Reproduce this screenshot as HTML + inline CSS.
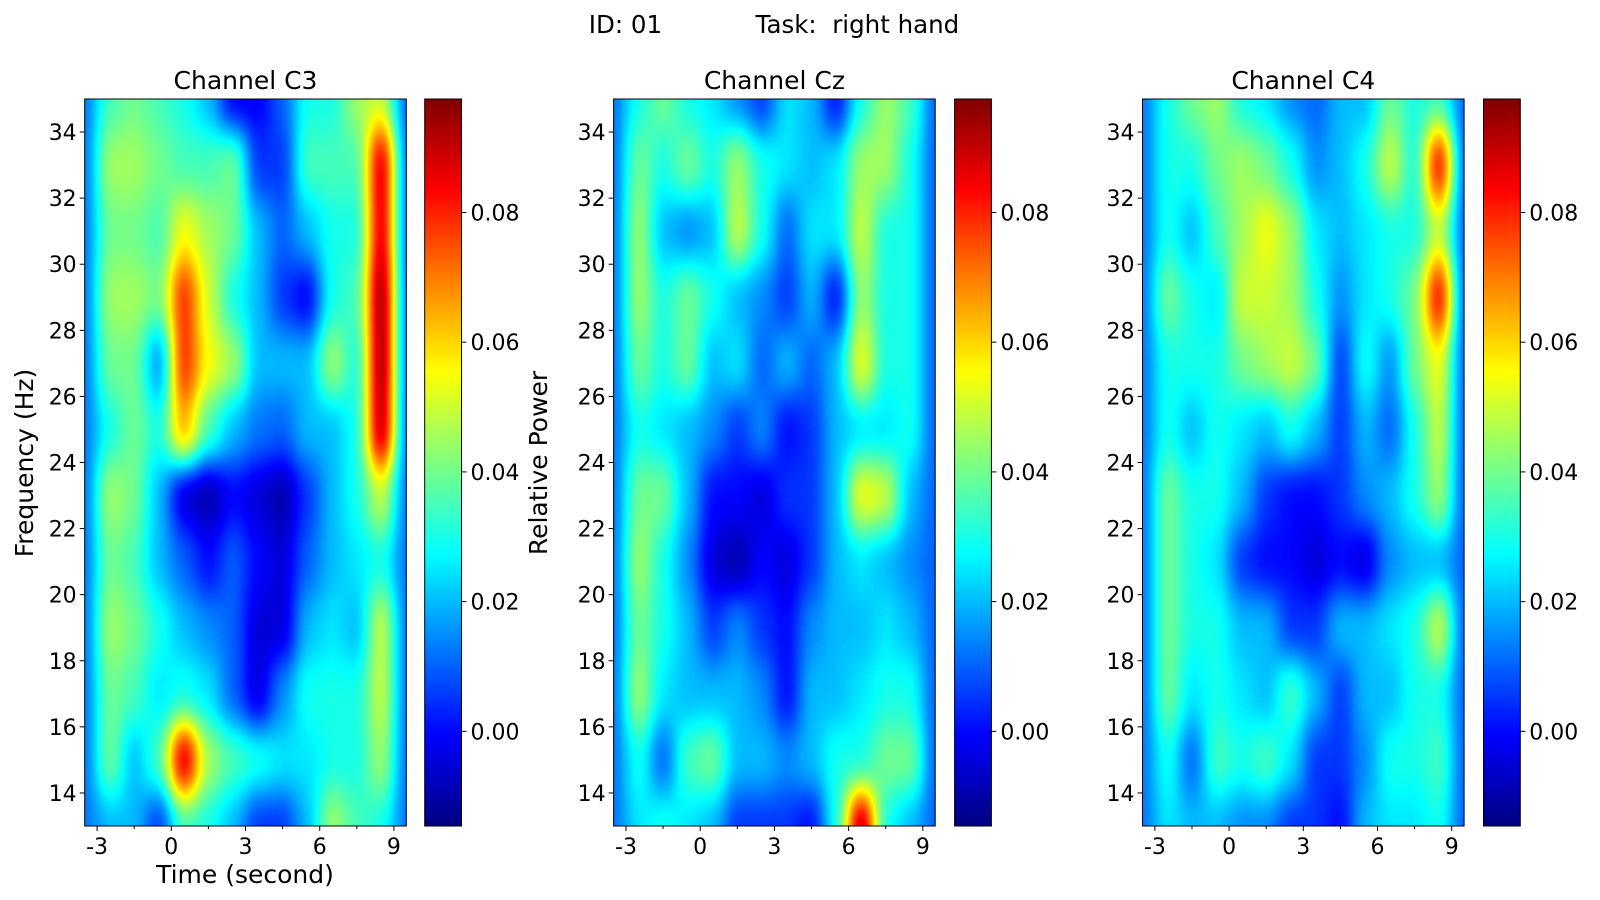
<!DOCTYPE html>
<html><head><meta charset="utf-8"><style>
html,body{margin:0;padding:0;background:#fff;}
svg{display:block;font-family:"DejaVu Sans","Liberation Sans",sans-serif;}
</style></head><body>
<svg id="root" width="1600" height="900" viewBox="0 0 1600 900">
<text x="774" y="33" font-size="24.5" text-anchor="middle" xml:space="preserve">ID: 01            Task:  right hand</text>
</svg>
<script>
const freqs=[35,33,31,29,27,25,23,21,19,17,15,13];
const times=[-3.5,-2.5,-1.5,-0.5,0.5,1.5,2.5,3.5,4.5,5.5,6.5,7.5,8.5,9.5];
const xTicks=[-3,0,3,6,9];
const yTicks=[14,16,18,20,22,24,26,28,30,32,34];
const cbTicks=[0,0.02,0.04,0.06,0.08];
const cbLabels=["0.00","0.02","0.04","0.06","0.08"];
const channelNames=["Channel C3","Channel Cz","Channel C4"];
const c3=[
[0.012,0.035,0.04,0.035,0.03,0.02,-0.002,-0.002,0.01,0.03,0.03,0.045,0.05,0.01],
[0.012,0.045,0.045,0.04,0.035,0.035,0.04,0.005,0.005,0.035,0.035,0.035,0.09,0.012],
[0.012,0.04,0.04,0.035,0.055,0.045,0.04,0.02,0.01,0.02,0.03,0.03,0.09,0.012],
[0.012,0.045,0.045,0.04,0.08,0.05,0.03,0.02,0.005,-0.002,0.03,0.035,0.1,0.012],
[0.012,0.04,0.04,0.015,0.08,0.055,0.045,0.02,0.02,0.02,0.045,0.03,0.1,0.012],
[0.012,0.03,0.04,0.03,0.065,0.035,0.02,0.012,0.01,0.02,0.02,0.03,0.095,0.012],
[0.012,0.045,0.04,0.02,-0.005,-0.01,0.0,-0.005,-0.01,0.005,0.02,0.03,0.05,0.012],
[0.012,0.04,0.035,0.02,0.01,0.0,0.01,0.0,-0.005,0.01,0.02,0.025,0.03,0.012],
[0.012,0.045,0.04,0.03,0.02,0.015,0.01,-0.005,-0.005,0.02,0.025,0.02,0.05,0.012],
[0.012,0.04,0.035,0.025,0.03,0.025,0.01,-0.005,0.015,0.03,0.03,0.03,0.05,0.012],
[0.012,0.04,0.02,0.035,0.09,0.045,0.035,0.03,0.025,0.025,0.03,0.03,0.045,0.012],
[0.012,0.02,0.02,0.005,0.035,0.03,0.02,0.005,0.005,0.02,0.045,0.035,0.03,0.012]];
const cz=[
[0.012,0.03,0.04,0.03,0.025,0.015,0.005,0.025,0.02,0.0,0.03,0.045,0.035,0.01],
[0.012,0.04,0.03,0.04,0.03,0.045,0.03,0.025,0.02,0.025,0.045,0.045,0.03,0.01],
[0.012,0.045,0.02,0.015,0.02,0.05,0.03,0.01,0.025,0.025,0.05,0.03,0.03,0.01],
[0.012,0.045,0.03,0.04,0.03,0.02,0.015,0.005,0.02,0.0,0.045,0.03,0.03,0.01],
[0.012,0.04,0.03,0.04,0.02,0.025,0.01,0.02,0.01,0.02,0.055,0.03,0.03,0.01],
[0.012,0.03,0.025,0.02,0.015,0.005,0.015,0.0,0.005,0.02,0.025,0.025,0.03,0.01],
[0.012,0.04,0.04,0.02,0.0,0.0,-0.005,0.005,0.005,0.02,0.055,0.05,0.02,0.01],
[0.012,0.045,0.03,0.015,-0.005,-0.01,0.0,-0.005,0.005,0.02,0.025,0.02,0.015,0.01],
[0.012,0.04,0.03,0.02,0.005,0.015,0.005,0.0,0.015,0.02,0.02,0.025,0.02,0.01],
[0.012,0.045,0.025,0.02,0.02,0.02,0.015,0.0,0.02,0.02,0.025,0.03,0.03,0.01],
[0.012,0.03,0.01,0.035,0.04,0.02,0.02,0.015,0.02,0.03,0.03,0.04,0.04,0.01],
[0.012,0.025,0.03,0.025,0.02,0.005,0.005,0.005,0.0,0.03,0.095,0.03,0.02,0.01]];
const c4=[
[0.012,0.03,0.04,0.045,0.03,0.025,0.015,0.01,0.02,0.02,0.04,0.03,0.035,0.01],
[0.012,0.03,0.03,0.04,0.045,0.04,0.03,0.015,0.02,0.03,0.05,0.03,0.085,0.01],
[0.012,0.03,0.02,0.035,0.045,0.055,0.045,0.025,0.02,0.025,0.03,0.03,0.05,0.01],
[0.012,0.04,0.03,0.025,0.05,0.05,0.045,0.03,0.015,0.025,0.03,0.04,0.085,0.01],
[0.012,0.03,0.03,0.03,0.04,0.045,0.05,0.04,0.005,0.03,0.015,0.04,0.055,0.01],
[0.012,0.03,0.02,0.03,0.025,0.02,0.03,0.02,0.005,0.02,0.01,0.03,0.05,0.01],
[0.012,0.04,0.03,0.03,0.02,0.005,0.0,0.0,0.005,0.015,0.02,0.03,0.045,0.01],
[0.012,0.04,0.03,0.025,0.005,0.0,0.0,-0.005,0.0,-0.005,0.015,0.02,0.02,0.01],
[0.012,0.04,0.03,0.03,0.02,0.02,0.005,0.005,0.02,0.02,0.025,0.03,0.05,0.01],
[0.012,0.04,0.025,0.03,0.025,0.02,0.035,0.02,0.005,0.02,0.02,0.03,0.03,0.01],
[0.012,0.03,0.01,0.035,0.03,0.035,0.025,0.005,0.005,0.015,0.03,0.03,0.035,0.01],
[0.012,0.025,0.02,0.02,0.015,0.015,0.005,0.005,0.0,0.02,0.025,0.025,0.03,0.01]];
const channelData=[c3,cz,c4];

const NS="http://www.w3.org/2000/svg";
const root=document.getElementById('root');
const VMIN=-0.0146,VMAX=0.0975,TMIN=-3.5,TMAX=9.5,FMIN=13,FMAX=35;
const panels=[{x:84.7,cb:424.7},{x:613.6,cb:954.6},{x:1142.5,cb:1483.5}];
const PW=321.6,PT=99,PB=826,CBW=36.8;
const TICKFS=22, LABFS=25;
function el(tag,attrs,parent){const e=document.createElementNS(NS,tag);for(const k in attrs)e.setAttribute(k,attrs[k]);(parent||root).appendChild(e);return e;}
function cl(v){return Math.max(0,Math.min(1,v));}
function jetc(x){x=cl(x);return [cl(1.5-Math.abs(4*x-3)),cl(1.5-Math.abs(4*x-2)),cl(1.5-Math.abs(4*x-1))];}
function jet(x){const c=jetc(x);return `rgb(${Math.round(c[0]*255)},${Math.round(c[1]*255)},${Math.round(c[2]*255)})`;}
function norm(v){return cl((v-VMIN)/(VMAX-VMIN));}
const defs=el('defs',{});
const flt=el('filter',{id:'blur',x:'-20%',y:'-20%',width:'140%',height:'140%','color-interpolation-filters':'sRGB'},defs);
el('feGaussianBlur',{stdDeviation:'8 19'},flt);
const ct=el('feComponentTransfer',{},flt);
const tr=[],tg=[],tb=[];
for(let i=0;i<=64;i++){const c=jetc(i/64);tr.push(c[0].toFixed(3));tg.push(c[1].toFixed(3));tb.push(c[2].toFixed(3));}
el('feFuncR',{type:'table',tableValues:tr.join(' ')},ct);
el('feFuncG',{type:'table',tableValues:tg.join(' ')},ct);
el('feFuncB',{type:'table',tableValues:tb.join(' ')},ct);
const grad=el('linearGradient',{id:'jetgrad',x1:'0',y1:'1',x2:'0',y2:'0'},defs);
for(let i=0;i<=32;i++){el('stop',{offset:(i/32),'stop-color':jet(i/32)},grad);}

panels.forEach((p,pi)=>{
  const xs=t=>p.x+(t-TMIN)/(TMAX-TMIN)*PW;
  const ys=f=>PB-(f-FMIN)/(FMAX-FMIN)*(PB-PT);
  const yc=v=>PB-norm(v)*(PB-PT);
  const cp=el('clipPath',{id:'clip'+pi},defs);
  el('rect',{x:p.x,y:PT,width:PW,height:PB-PT},cp);
  const g=el('g',{'clip-path':`url(#clip${pi})`});
  
  
  const inner=el('g',{filter:'url(#blur)'},g);
  const data=channelData[pi];
  const cw=(TMAX-TMIN)/(times.length-1), fh=2;
  freqs.forEach((f,ri)=>{times.forEach((t,ci)=>{
    let x0=xs(t-cw/2),x1=xs(t+cw/2),y0=ys(f+fh/2),y1=ys(f-fh/2);
    if(ci===0)x0-=60; if(ci===times.length-1)x1+=60;
    if(ri===0)y0-=80; if(ri===freqs.length-1)y1+=80;
    const k=Math.round(norm(data[ri][ci])*255);
    const r=el('rect',{x:x0,y:y0,width:x1-x0+0.5,height:y1-y0+0.5,fill:`rgb(${k},${k},${k})`},inner);
    
    
  });});
  const fr=el('rect',{x:p.x,y:PT,width:PW,height:PB-PT,fill:'none',stroke:'#000','stroke-width':1});
  
  
  const tt=el('text',{x:p.x+PW/2,y:89,'font-size':LABFS,'text-anchor':'middle'});
  tt.textContent=channelNames[pi];
  
  
  yTicks.forEach(f=>{const y=ys(f);el('line',{x1:p.x-5,x2:p.x,y1:y,y2:y,stroke:'#000'});
    const t=el('text',{x:p.x-8,y:y+8,'font-size':TICKFS,'text-anchor':'end'});t.textContent=f;
    });
  for(let t=-3;t<=9;t+=1.5){const x=xs(t);el('line',{x1:x,x2:x,y1:PB,y2:PB+(Number.isInteger(t/3)?5:3),stroke:'#000'});}
  xTicks.forEach(t=>{const x=xs(t);const tx=el('text',{x:x,y:PB+28,'font-size':TICKFS,'text-anchor':'middle'});tx.textContent=t;
    });
  const cb=el('rect',{x:p.cb,y:PT,width:CBW,height:PB-PT,fill:'url(#jetgrad)',stroke:'#000','stroke-width':1});
  
  
  cbTicks.forEach((v,i)=>{const y=yc(v);el('line',{x1:p.cb+CBW,x2:p.cb+CBW+5,y1:y,y2:y,stroke:'#000'});
    const t=el('text',{x:p.cb+CBW+9,y:y+8,'font-size':TICKFS});t.textContent=cbLabels[i];
    });
});
let a=el('text',{x:0,y:0,'font-size':LABFS,'text-anchor':'middle',transform:'translate(33,463) rotate(-90)'});a.textContent='Frequency (Hz)';

a=el('text',{x:0,y:0,'font-size':LABFS,'text-anchor':'middle',transform:'translate(547,463) rotate(-90)'});a.textContent='Relative Power';

a=el('text',{x:245,y:883,'font-size':LABFS,'text-anchor':'middle'});a.textContent='Time (second)';

</script>
</body></html>
